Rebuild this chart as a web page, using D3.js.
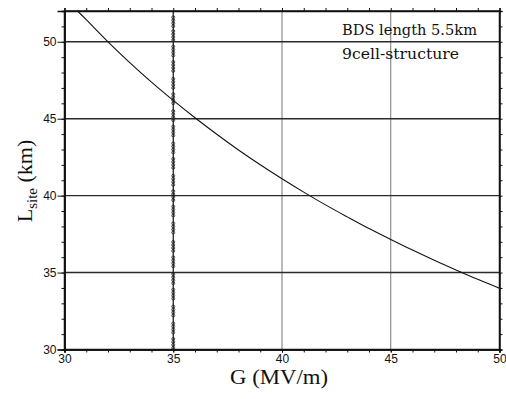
<!DOCTYPE html>
<html>
<head>
<meta charset="utf-8">
<title>Lsite vs G</title>
<script src="https://cdn.jsdelivr.net/npm/d3@7"></script>
<style>
  body { margin: 0; background: #fff; }
  .axis text { font-family: "Liberation Sans", Arial, sans-serif; font-size: 12px; fill: #111; }
  .axis path, .axis line { stroke: #111; }
  .title { font-family: "Liberation Serif", "Times New Roman", serif; fill: #111; }
  .note { font-family: "DejaVu Serif", serif; font-size: 14px; fill: #111; }
</style>
</head>
<body>
<script>
  // gradient G (MV/m) and site length (km)
  var gradient   = [30.6, 31, 32, 33, 34, 35, 36, 37, 38, 39, 40, 41, 42, 43, 44, 45, 46, 47, 48, 49, 50];
  var siteLength = [52.0, 51.44, 50.0, 48.65, 47.38, 46.19, 45.06, 43.99, 42.97, 42.01, 41.10, 40.23, 39.40, 38.62, 37.86, 37.15, 36.46, 35.80, 35.17, 34.56, 33.98];

  // vertical marker line at G = 35 (group centres along L)
  var limitG = 35;
  var markerL = [30.4, 31.4, 32.5, 33.6, 34.6, 35.7, 36.7, 37.9, 39.0, 40.0, 41.0, 42.1, 43.1, 44.2, 45.2, 46.3, 47.3, 48.4, 49.4, 50.4, 51.3];

  var xTicks = [30, 35, 40, 45, 50];
  var yTicks = [30, 35, 40, 45, 50];
  var gridX = [40, 45];
  var gridY = [35, 40, 45, 50];
  var notes = ["BDS length 5.5km", "9cell-structure"];

  var w = 506, h = 399;
  var plotL = 64.5, plotR = 499.5, plotT = 11, plotB = 349.5;

  var x = d3.scaleLinear().domain([30, 50]).range([plotL, plotR]);
  var y = d3.scaleLinear().domain([30, 52]).range([plotB, plotT]);

  var svg = d3.select("body").append("svg")
    .attr("width", w)
    .attr("height", h);

  // grid
  svg.append("g").selectAll("line")
    .data(gridX).enter().append("line")
    .attr("x1", function (d) { return x(d); })
    .attr("x2", function (d) { return x(d); })
    .attr("y1", plotT).attr("y2", plotB)
    .attr("stroke", "#777").attr("stroke-width", 1);

  svg.append("g").selectAll("line")
    .data(gridY).enter().append("line")
    .attr("x1", plotL).attr("x2", plotR)
    .attr("y1", function (d) { return y(d); })
    .attr("y2", function (d) { return y(d); })
    .attr("stroke", "#2a2a2a").attr("stroke-width", 1.4);

  // minor ticks (every 1 unit) on all four sides, outward
  var minorX = d3.range(30, 51, 1);
  var minorY = d3.range(30, 53, 1);

  svg.append("g").attr("class", "axis")
    .attr("transform", "translate(0," + plotB + ")")
    .call(d3.axisBottom(x).tickValues(minorX).tickSize(3).tickFormat(""));
  svg.append("g").attr("class", "axis")
    .attr("transform", "translate(0," + plotT + ")")
    .call(d3.axisTop(x).tickValues(minorX).tickSize(3).tickFormat(""));
  svg.append("g").attr("class", "axis")
    .attr("transform", "translate(" + plotL + ",0)")
    .call(d3.axisLeft(y).tickValues(minorY).tickSize(3).tickFormat(""));
  svg.append("g").attr("class", "axis")
    .attr("transform", "translate(" + plotR + ",0)")
    .call(d3.axisRight(y).tickValues(minorY).tickSize(3).tickFormat(""));

  // labelled ticks
  svg.append("g").attr("class", "axis")
    .attr("transform", "translate(0," + plotB + ")")
    .call(d3.axisBottom(x).tickValues(xTicks).tickSize(3).tickPadding(2).tickFormat(d3.format("d")));
  svg.append("g").attr("class", "axis")
    .attr("transform", "translate(" + plotL + ",0)")
    .call(d3.axisLeft(y).tickValues(yTicks).tickSize(7).tickPadding(1).tickFormat(d3.format("d")));

  svg.selectAll(".axis path").attr("stroke-width", 1.5);

  // frame
  svg.append("rect")
    .attr("x", plotL).attr("y", plotT)
    .attr("width", plotR - plotL).attr("height", plotB - plotT)
    .attr("fill", "none").attr("stroke", "#111").attr("stroke-width", 1.5);

  // G = 35 marker line
  svg.append("line")
    .attr("x1", x(limitG)).attr("x2", x(limitG))
    .attr("y1", y(52)).attr("y2", y(30))
    .attr("stroke", "#111").attr("stroke-width", 1.2);

  var groups = svg.append("g").selectAll("g")
    .data(markerL).enter().append("g")
    .attr("transform", function (d) { return "translate(" + x(limitG) + "," + y(d) + ")"; });
  groups.selectAll("circle")
    .data([-4.5, -1.5, 1.5, 4.5]).enter().append("circle")
    .attr("cx", 0).attr("cy", function (d) { return d; })
    .attr("r", 1.5)
    .attr("fill", "none").attr("stroke", "#222").attr("stroke-width", 0.8);

  // curve
  var pts = gradient.map(function (g, i) { return [g, siteLength[i]]; });
  var lineFun = d3.line()
    .x(function (d) { return x(d[0]); })
    .y(function (d) { return y(d[1]); })
    .curve(d3.curveCatmullRom);

  svg.append("path")
    .datum(pts)
    .attr("d", lineFun)
    .attr("fill", "none")
    .attr("stroke", "#111")
    .attr("stroke-width", 1.1);

  // notes
  svg.append("text").attr("class", "note")
    .attr("x", 342).attr("y", 35)
    .attr("textLength", 135).attr("lengthAdjust", "spacingAndGlyphs")
    .text(notes[0]);
  svg.append("text").attr("class", "note")
    .attr("x", 342).attr("y", 59)
    .attr("textLength", 117).attr("lengthAdjust", "spacingAndGlyphs")
    .text(notes[1]);

  // axis titles
  svg.append("text").attr("class", "title")
    .attr("x", 230).attr("y", 384)
    .attr("font-size", 20)
    .attr("textLength", 98).attr("lengthAdjust", "spacingAndGlyphs")
    .text("G (MV/m)");

  var yt = svg.append("text").attr("class", "title")
    .attr("transform", "translate(32,181) rotate(-90)")
    .attr("text-anchor", "middle")
    .attr("font-size", 22);
  yt.append("tspan").text("L");
  yt.append("tspan").attr("font-size", 15).attr("dy", 5).text("site");
  yt.append("tspan").attr("dy", -5).text(" (km)");
</script>
</body>
</html>
